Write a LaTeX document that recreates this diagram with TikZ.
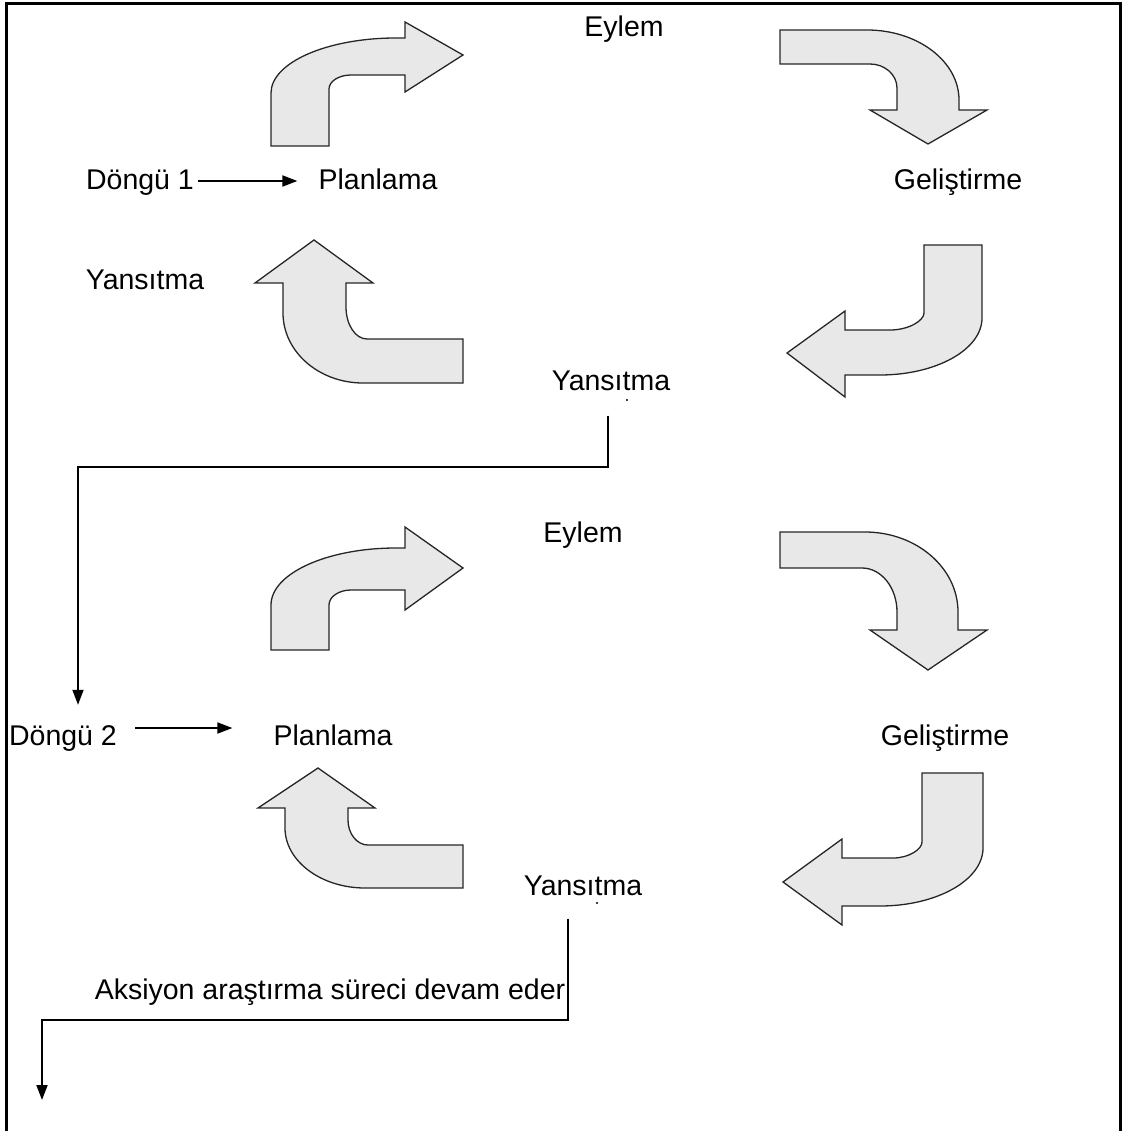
\documentclass[tikz,border=0pt]{standalone}
\usepackage{fontspec}
\setmainfont{Liberation Sans}
\usetikzlibrary{arrows.meta}
\begin{document}
\begin{tikzpicture}[x=1pt,y=-1pt,
  lbl/.style={font=\fontsize{28.5}{34}\selectfont, inner sep=0pt, text height=21pt, text depth=6pt},
  bent/.style={draw=black!85, line width=1.3pt, fill=black!9, line join=miter},
  conn/.style={draw=black, line width=1.8pt},
  tip/.style={-{Triangle[length=15pt,width=11pt]}},
  frame/.style={draw=black, line width=3pt}]
\useasboundingbox (0,0) rectangle (1123,1131);

% outer frame (open at the bottom)
\draw[frame] (6,1131) -- (6,4) -- (1120,4) -- (1120,1131);

% ---------------- cycle 1 ----------------
% up-then-right arrow
\draw[bent] (271,146) -- (271,93) .. controls (271,62.6) and (327,38) .. (396,38)
  -- (405,38) -- (405,22) -- (463,55) -- (405,92) -- (405,75) -- (351,75)
  .. controls (338.9,75) and (329,81.3) .. (329,89) -- (329,146) -- cycle;
% right-then-down arrow
\draw[bent] (780,30) -- (867,30) .. controls (917.8,30) and (959,61.4) .. (959,100)
  -- (959,110) -- (987,110) -- (928,144) -- (870,110) -- (897,110) -- (897,88)
  .. controls (897,74.8) and (884.9,64) .. (870,64) -- (780,64) -- cycle;
% down-then-left arrow
\draw[bent] (924,245) -- (982,245) -- (982,318) .. controls (982,349.5) and (936.3,375) .. (880,375)
  -- (845,375) -- (845,397) -- (787,353) -- (845,311) -- (845,330) -- (890,330)
  .. controls (908.8,330) and (924,320.6) .. (924,313) -- cycle;
% left-then-up arrow
\draw[bent] (463,339) -- (367,339) .. controls (355.4,339) and (346,324.7) .. (346,307)
  -- (346,283) -- (373,283) -- (314,240) -- (255,283) -- (283,283) -- (283,313)
  .. controls (283,351.6) and (318.8,383) .. (363,383) -- (463,383) -- cycle;

% ---------------- cycle 2 ----------------
\draw[bent] (271,650) -- (271,605) .. controls (271,573.5) and (327,548) .. (396,548)
  -- (405,548) -- (405,527) -- (463,568) -- (405,610) -- (405,590) -- (351,590)
  .. controls (338.9,590) and (329,596.7) .. (329,605) -- (329,650) -- cycle;
\draw[bent] (780,532) -- (865,532) .. controls (916.3,532) and (958,567.8) .. (958,612)
  -- (958,630) -- (987,630) -- (928,670) -- (870,630) -- (897,630) -- (897,612)
  .. controls (897,587.7) and (881.3,568) .. (862,568) -- (780,568) -- cycle;
\draw[bent] (922,773) -- (983,773) -- (983,848) .. controls (983,880) and (936.9,906) .. (880,906)
  -- (842,906) -- (842,925) -- (783,882) -- (842,839) -- (842,858) -- (893,858)
  .. controls (909,858) and (922,849.2) .. (922,842) -- cycle;
\draw[bent] (463,845) -- (368,845) .. controls (357,845) and (348,833.8) .. (348,820)
  -- (348,808) -- (375,808) -- (318,768) -- (258,808) -- (285,808) -- (285,828)
  .. controls (285,861) and (321,888) .. (365,888) -- (463,888) -- cycle;

% ---------------- labels ----------------
\node[lbl] (e1) at (624,29.5) {Eylem};
\node[lbl] (d1) at (140,182) {Döngü 1};
\node[lbl] (p1) at (378,182) {Planlama};
\node[lbl] (g1) at (958,182) {Geliştirme};
\node[lbl] (yl) at (145,282) {Yansıtma};
\node[lbl] (y1) at (611,383) {Yansıtma};
\node[lbl] (e2) at (583,535) {Eylem};
\node[lbl] (d2) at (63,738) {Döngü 2};
\node[lbl] (p2) at (333,738) {Planlama};
\node[lbl] (g2) at (945,738) {Geliştirme};
\node[lbl] (y2) at (583,888) {Yansıtma};
\node[lbl] (ak) at (330,992) {Aksiyon araştırma süreci devam eder};

% specks under the lower labels
\fill (627,400) circle (1.2pt);
\fill (597,903) circle (1.2pt);

% ---------------- connectors ----------------
\draw[conn,tip] ([xshift=4pt,yshift=1pt]d1.east) -- ([xshift=-21pt,yshift=1pt]p1.west);
\draw[conn,tip] ([xshift=18pt,yshift=10pt]d2.east) -- ([xshift=-41pt,yshift=10pt]p2.west);
\draw[conn,tip] ([xshift=-3pt,yshift=-19pt]y1.south) -- ++(0,51) -| ([xshift=15pt,yshift=19.5pt]d2.north);
\coordinate (cont) at (42,1100);
\draw[conn,tip] ([xshift=-15pt,yshift=-17pt]y2.south) -- ++(0,101) -| (cont);
\end{tikzpicture}
\end{document}
